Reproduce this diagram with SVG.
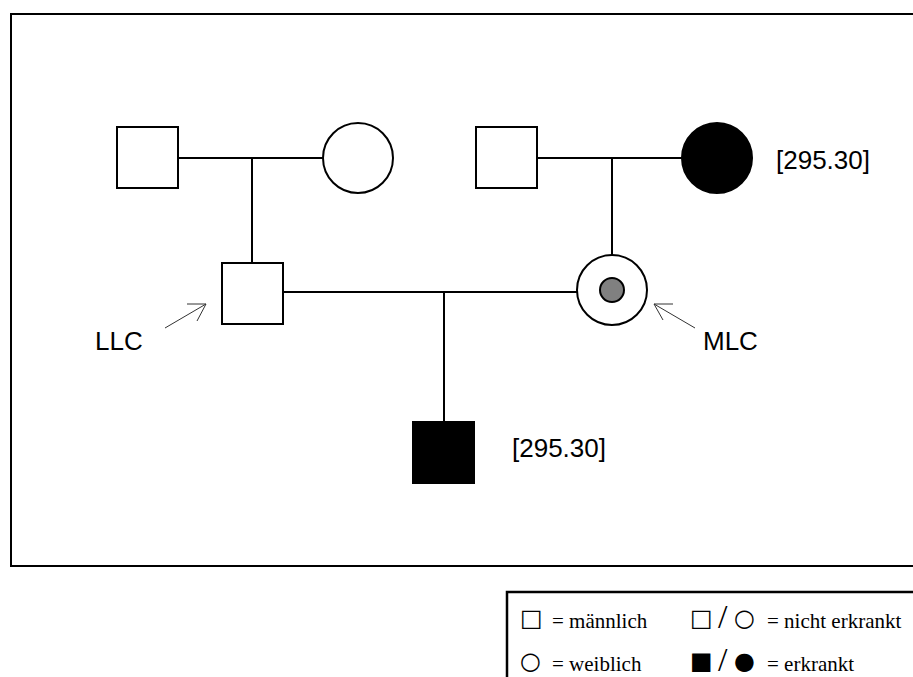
<svg xmlns="http://www.w3.org/2000/svg" width="913" height="677" viewBox="0 0 913 677">
<style>
.shape{fill:#fff;stroke:#000;stroke-width:2}
.aff{fill:#000;stroke:#000;stroke-width:2}
.line{fill:none;stroke:#000;stroke-width:2}
.arrow{fill:none;stroke:#333;stroke-width:1}
.lbl{font-family:"Liberation Sans",Arial,sans-serif;font-size:26px;fill:#000}
.leg{font-family:"Liberation Serif","Times New Roman",serif;font-size:21px;fill:#000}
.sym{font-family:"DejaVu Sans",sans-serif;font-size:24px;fill:#000}
.slash{font-family:"Liberation Serif","Times New Roman",serif;font-size:34px;fill:#000}
</style>
<rect width="913" height="677" fill="#fff"/>
<path d="M913,14 H11 V566 H913" fill="none" stroke="#000" stroke-width="2"/>
<g id="connectors">
<path class="line" d="M178,158 H323 M252,158 V263"/>
<path class="line" d="M537,158 H682 M612,158 V255"/>
<path class="line" d="M283,292 H577 M444,292 V422"/>
<path class="arrow" d="M165,328 L206,304 M187,304 L206,304 L197,321"/>
<path class="arrow" d="M695,328 L654,304 M673,304 L654,304 L663,320"/>
</g>
<g id="grandfather1"><rect class="shape" x="117" y="127" width="61" height="61"/></g>
<g id="grandmother1"><circle class="shape" cx="358" cy="158" r="35"/></g>
<g id="grandfather2"><rect class="shape" x="476" y="127" width="61" height="61"/></g>
<g id="grandmother2"><circle class="aff" cx="717" cy="158" r="35"/><text class="lbl" x="776" y="169">[295.30]</text></g>
<g id="father"><rect class="shape" x="222" y="263" width="61" height="61"/><text class="lbl" x="95" y="350">LLC</text></g>
<g id="mother"><circle class="shape" cx="612" cy="290" r="35"/><circle cx="612" cy="290" r="12" fill="#808080" stroke="#000" stroke-width="2"/><text class="lbl" x="703" y="350">MLC</text></g>
<g id="child"><rect class="aff" x="413" y="422" width="61" height="61"/><text class="lbl" x="512" y="457">[295.30]</text></g>
<g id="legend">
<path d="M913,592 H507 V677" fill="none" stroke="#000" stroke-width="2.5"/>
<text class="sym" x="520" y="626">□</text>
<text class="leg" x="552" y="628">= männlich</text>
<text class="sym" x="520" y="669">○</text>
<text class="leg" x="552" y="671">= weiblich</text>
<text class="sym" x="690" y="626">□</text>
<text class="slash" x="718" y="628">/</text>
<text class="sym" x="734" y="626">○</text>
<text class="leg" x="767" y="628">= nicht erkrankt</text>
<text class="sym" x="690" y="669">■</text>
<text class="slash" x="718" y="671">/</text>
<text class="sym" x="734" y="669">●</text>
<text class="leg" x="767" y="671">= erkrankt</text>
</g>
</svg>
